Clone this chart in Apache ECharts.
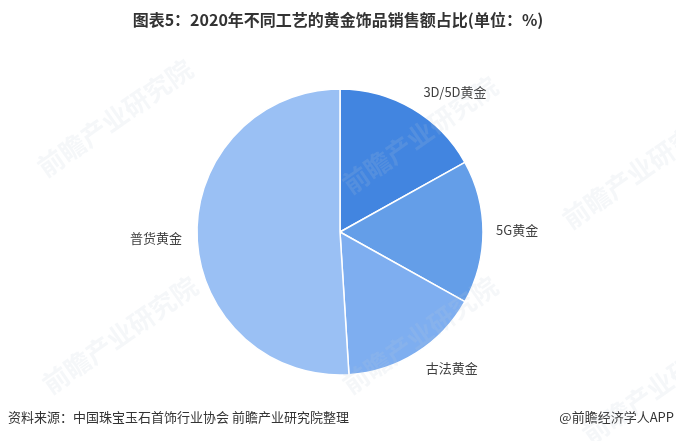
<!DOCTYPE html>
<html>
<head>
<meta charset="utf-8">
<script src="https://cdn.jsdelivr.net/npm/echarts@6/dist/echarts.min.js"></script>
<style>
html,body{margin:0;padding:0;background:#fff;}
#chart{width:676px;height:441px;}
</style>
</head>
<body>
<div id="chart"></div>
<script>
// ---- data ----
var categories = ['3D/5D黄金', '5G黄金', '古法黄金', '普货黄金'];
var shares = [16.9, 16.2, 15.9, 51.0];
var titleText = '图表5：2020年不同工艺的黄金饰品销售额占比(单位：%)';
var sourceText = '资料来源：中国珠宝玉石首饰行业协会 前瞻产业研究院整理';
var brandText = '@前瞻经济学人APP';

// ---- styles (not data) ----
var sliceColors = ['#4285e0', '#649ee8', '#7eaef0', '#9ac0f4'];
var labelTuning = [
  {length: 0, length2: 56, dist: 5, dx: -50, dy: -17},
  {length: 3, length2: 5, dist: 5, dx: 0, dy: -2},
  {length: 18, length2: 0, dist: 0, dx: 0, dy: 0},
  {length: 5, length2: 5, dist: 5, dx: 0, dy: 1}
];

var font = '"Noto Sans CJK SC", "Noto Sans", sans-serif';

var pieData = categories.map(function (name, i) {
  return {
    name: name,
    value: shares[i],
    itemStyle: {color: sliceColors[i]},
    labelLine: {show: false, length: labelTuning[i].length, length2: labelTuning[i].length2},
    label: {distanceToLabelLine: labelTuning[i].dist}
  };
});

var wm = [];
var wmPos = [[115, 118], [420, 135], [640, 170], [120, 335], [420, 335], [660, 385]];
wmPos.forEach(function (p) {
  wm.push({
    type: 'text', x: p[0], y: p[1], rotation: 35 * Math.PI / 180, z: 100,
    style: {text: '前瞻产业研究院', font: 'bold 26px ' + font, fill: 'rgba(190,198,212,0.15)',
      textAlign: 'center', textVerticalAlign: 'middle'}
  });
});
wm.push({type: 'text', left: 8, top: 411, style: {text: sourceText, font: '13px ' + font, fill: '#333'}});
wm.push({type: 'text', right: 2, top: 411, style: {text: brandText, font: '13px ' + font, fill: '#333'}});

var chart = echarts.init(document.getElementById('chart'), null, {renderer: 'canvas'});
chart.setOption({
  backgroundColor: '#fff',
  animation: false,
  title: {
    text: titleText, left: 'center', top: 7,
    textStyle: {fontFamily: font, fontSize: 16, fontWeight: 'bold', color: '#333'}
  },
  series: [{
    type: 'pie',
    center: [340, 232],
    radius: 143,
    startAngle: 90,
    clockwise: true,
    avoidLabelOverlap: false,
    itemStyle: {borderColor: '#fff', borderWidth: 1.5},
    label: {show: true, position: 'outside', formatter: '{b}', fontFamily: font, fontSize: 13, color: '#404040'},
    labelLine: {show: false},
    labelLayout: function (p) {
      var t = labelTuning[p.dataIndex];
      return {dx: t.dx, dy: t.dy};
    },
    emphasis: {disabled: true},
    data: pieData
  }],
  graphic: wm
});
</script>
</body>
</html>
